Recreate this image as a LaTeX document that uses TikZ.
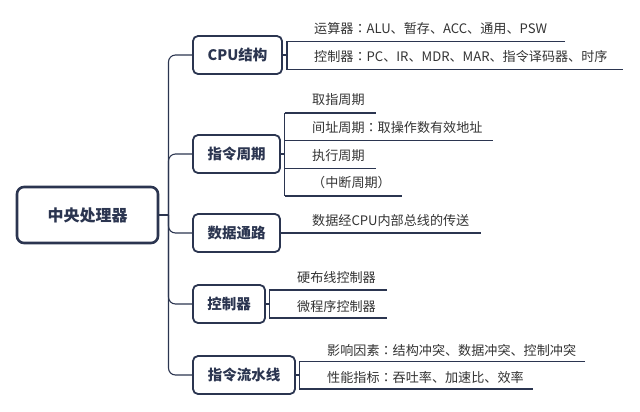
\documentclass[tikz,border=0pt]{standalone}
\usepackage{fontspec}
\setmainfont{Noto Sans CJK SC}
\newfontfamily\tcfont{Noto Sans CJK TC}
\newcommand{\cc}{{\tcfont ：}}
\definecolor{ink}{HTML}{2B3550}
\definecolor{txt}{HTML}{333333}
\begin{document}
\begin{tikzpicture}[x=1bp,y=-1bp,
  rootbox/.style={draw=ink,line width=2.6bp,rounded corners=7bp,fill=white,minimum width=141bp,minimum height=56bp,inner sep=0pt,font=\bfseries\fontsize{16bp}{18bp}\selectfont,text=ink},
  branchbox/.style={draw=ink,line width=1.8bp,rounded corners=5bp,fill=white,minimum height=38bp,inner sep=0pt,font=\bfseries\fontsize{14.5bp}{17bp}\selectfont,text=ink},
  leaf/.style={anchor=west,inner sep=0pt,font=\fontsize{13.1bp}{15bp}\selectfont,text=txt},
  conn/.style={draw=ink,line width=1.1bp},
  trunk/.style={conn,rounded corners=7bp}]
\useasboundingbox (0,0) rectangle (640,411);
% root
\node[rootbox] (root) at (87.5,215) {中央处理器};
\coordinate (tr) at (168.5,215);
% branches
\node[branchbox,minimum width=89bp] (b1) at (237.5,55) {CPU结构};
\node[branchbox,minimum width=87bp] (b2) at (236.5,154) {指令周期};
\node[branchbox,minimum width=87bp] (b3) at (236.5,233) {数据通路};
\node[branchbox,minimum width=72bp] (b4) at (229,304) {控制器};
\node[branchbox,minimum width=102bp] (b5) at (244,375) {指令流水线};
\draw[conn] (root.east) -- (tr);
\foreach \b in {b1,b2,b3,b4,b5}{\draw[trunk] (tr) |- (\b.west);}
% CPU structure children
\coordinate (k1) at (287,55);
\coordinate (k1a) at (287,41.5);
\coordinate (k1b) at (287,69.5);
\coordinate (e1a) at (565,41.5);
\coordinate (e1b) at (623,69.5);
\draw[conn] (b1.east) -- (k1);
\draw[conn] (e1a) -- (k1a) -- (k1b) -- (e1b);
\node[leaf] (c11) at (314,29) {运算器\cc ALU、暂存、ACC、通用、PSW};
\node[leaf] (c12) at (314,57) {控制器\cc PC、IR、MDR、MAR、指令译码器、时序};
% instruction cycle children
\coordinate (k2) at (284.5,154);
\coordinate (k2a) at (284.5,113);
\coordinate (k2b) at (284.5,140.5);
\coordinate (k2c) at (284.5,168.5);
\coordinate (k2d) at (284.5,196);
\draw[conn] (b2.east) -- (k2);
\draw[conn] (k2a) -- (k2d);
\draw[conn] (k2a) -- (376,113);
\draw[conn] (k2b) -- (493,140.5);
\draw[conn] (k2c) -- (376,168.5);
\draw[conn] (k2d) -- (402,196);
\node[leaf] (c21) at (312,100) {取指周期};
\node[leaf] (c22) at (312,128) {间址周期\cc 取操作数有效地址};
\node[leaf] (c23) at (312,156) {执行周期};
\node[leaf] (c24) at (312,183) {{\tcfont （}中断周期{\tcfont ）}};
% data path
\coordinate (e3) at (481,233);
\draw[conn] (b3.east) -- (e3);
\node[leaf] (c31) at (312,221) {数据经CPU内部总线的传送};
% controller children
\coordinate (k4) at (269.5,304);
\coordinate (k4a) at (269.5,290);
\coordinate (k4b) at (269.5,318);
\draw[conn] (b4.east) -- (k4);
\draw[conn] (387,290) -- (k4a) -- (k4b) -- (387,318);
\node[leaf] (c41) at (297,278) {硬布线控制器};
\node[leaf] (c42) at (297,306) {微程序控制器};
% pipeline children
\coordinate (k5) at (299.5,375);
\coordinate (k5a) at (299.5,361.5);
\coordinate (k5b) at (299.5,389);
\draw[conn] (b5.east) -- (k5);
\draw[conn] (585,361.5) -- (k5a) -- (k5b) -- (533,389);
\node[leaf] (c51) at (327,350) {影响因素\cc 结构冲突、数据冲突、控制冲突};
\node[leaf] (c52) at (327,377) {性能指标\cc 吞吐率、加速比、效率};
\end{tikzpicture}
\end{document}
